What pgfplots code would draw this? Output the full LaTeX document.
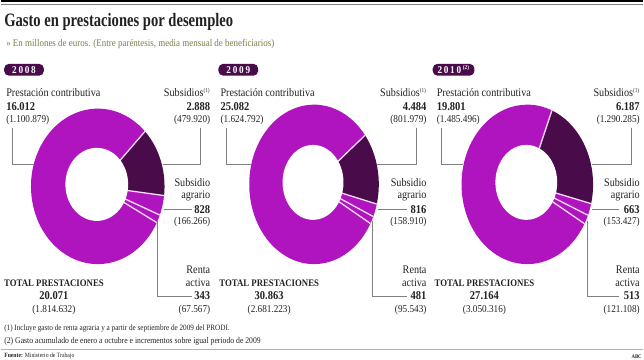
\documentclass[border=0pt]{standalone}
\usepackage{pgfplots}
\pgfplotsset{compat=1.18}
\usepackage{fontspec}
\setmainfont{Liberation Serif}[FakeStretch=0.88]
\newfontfamily\titlefont{Liberation Serif}[FakeStretch=0.77]
\definecolor{cMag}{HTML}{AF14BF}
\definecolor{cDark}{HTML}{4A0B4B}
\definecolor{cOlive}{HTML}{7D7A45}
\definecolor{cLine}{HTML}{808080}
\definecolor{cSep}{HTML}{F6DDF8}
\definecolor{cTxt}{HTML}{222222}

% #1 cx, #2 cy, #3 rx, #4 ry, #5 start angle, #6 subsidios, #7 agrario, #8 renta, #9 contributiva
\newcommand{\donut}[9]{%
  \edef\aA{\fpeval{#5}}%
  \edef\aB{\fpeval{#5-360*#6/(#6+#7+#8+#9)}}%
  \edef\aC{\fpeval{#5-360*(#6+#7)/(#6+#7+#8+#9)}}%
  \edef\aD{\fpeval{#5-360*(#6+#7+#8)/(#6+#7+#8+#9)}}%
  \edef\aE{\fpeval{#5-360}}%
  \edef\hx{\fpeval{0.47*#3}}%
  \edef\hy{\fpeval{0.47*#4}}%
  \fill[cDark] (axis cs:#1,#2) -- ++(\aA:#3pt and #4pt) arc[start angle=\aA,end angle=\aB,x radius=#3pt,y radius=#4pt] -- cycle;
  \fill[cMag] (axis cs:#1,#2) -- ++(\aB:#3pt and #4pt) arc[start angle=\aB,end angle=\aC,x radius=#3pt,y radius=#4pt] -- cycle;
  \fill[cMag] (axis cs:#1,#2) -- ++(\aC:#3pt and #4pt) arc[start angle=\aC,end angle=\aD,x radius=#3pt,y radius=#4pt] -- cycle;
  \fill[cMag] (axis cs:#1,#2) -- ++(\aD:#3pt and #4pt) arc[start angle=\aD,end angle=\aE,x radius=#3pt,y radius=#4pt] -- cycle;
  \foreach \a in {\aA,\aB,\aC,\aD} {\draw[cSep,line width=1.3pt] (axis cs:#1,#2) -- ++(\a:#3pt and #4pt);}
  \fill[white] (axis cs:#1,#2) ++(-1pt,2pt) ellipse[x radius=\hx pt,y radius=\hy pt];
}

\tikzset{
  lab/.style={inner sep=0pt,text=cTxt,font=\fontsize{11.6}{13}\selectfont},
  num/.style={inner sep=0pt,text=cTxt,font=\fontsize{12}{13}\selectfont\bfseries},
  par/.style={inner sep=0pt,text=cTxt,font=\fontsize{10.5}{12}\selectfont},
  tot/.style={inner sep=0pt,text=cTxt,font=\fontsize{10}{12}\selectfont\bfseries},
  yr/.style={fill=cDark,rounded corners=5pt,text=white,font=\fontsize{10.5}{11}\selectfont\bfseries,minimum height=12pt,inner sep=0pt},
  lead/.style={cLine,line width=0.8pt},
}
\newcommand{\supn}[1]{\textsuperscript{\fontsize{6}{6}\selectfont(#1)}}

\begin{document}
\begin{tikzpicture}
\begin{axis}[
  scale only axis, width=644pt, height=362pt,
  xmin=0, xmax=644, ymin=0, ymax=362, y dir=reverse,
  hide axis, clip=false]

% top rule and titles
\draw[black,line width=2.2pt] (axis cs:0,1.1) -- (axis cs:644,1.1);
\draw[gray,line width=0.4pt] (axis cs:0,3.8) -- (axis cs:644,3.8);
\node[anchor=base west,inner sep=0pt,text=cTxt,font=\titlefont\fontsize{19}{20}\selectfont\bfseries] at (axis cs:3,27) {Gasto en prestaciones por desempleo};
\node[anchor=west,inner sep=0pt,text=cOlive,font=\fontsize{10.2}{11}\selectfont] at (axis cs:5,44) {» En millones de euros. (Entre paréntesis, media mensual de beneficiarios)};

% donuts: subsidios, agrario, renta activa, contributiva
\pgfplotsextra{\donut{97}{187}{67}{78}{45}{2888}{828}{343}{16012}}
\pgfplotsextra{\donut{314}{185}{65}{80}{38}{4484}{816}{481}{25082}}
\pgfplotsextra{\donut{528}{185}{66}{80}{68}{6187}{663}{513}{19801}}

% ---- 2008
\node[yr,minimum width=40pt] at (axis cs:23,70) {2\,0\,0\,8};
\node[lab,anchor=west] at (axis cs:5,93) {Prestación contributiva};
\node[num,anchor=west] at (axis cs:5,107) {16.012};
\node[par,anchor=west] at (axis cs:5,120) {(1.100.879)};
\draw[lead] (axis cs:11,128) -- (axis cs:11,165) -- (axis cs:33,165);
\node[lab,anchor=east] at (axis cs:210,93) {Subsidios\supn{1}};
\node[num,anchor=east] at (axis cs:210,107) {2.888};
\node[par,anchor=east] at (axis cs:210,120) {(479.920)};
\draw[lead] (axis cs:200,128) -- (axis cs:200,165) -- (axis cs:162,165);
\node[lab,anchor=east] at (axis cs:210,183) {Subsidio};
\node[lab,anchor=east] at (axis cs:210,197) {agrario};
\node[num,anchor=east] at (axis cs:210,210) {828};
\node[par,anchor=east] at (axis cs:210,223) {(166.266)};
\draw[lead] (axis cs:163,210) -- (axis cs:192,210);
\node[lab,anchor=east] at (axis cs:210,271) {Renta};
\node[lab,anchor=east] at (axis cs:210,284) {activa};
\node[num,anchor=east] at (axis cs:210,297) {343};
\node[par,anchor=east] at (axis cs:210,311) {(67.567)};
\draw[lead] (axis cs:157,221) -- (axis cs:157,297) -- (axis cs:192,297);
\node[tot] at (axis cs:53,284) {TOTAL PRESTACIONES};
\node[num] at (axis cs:53,297) {20.071};
\node[par] at (axis cs:53,311) {(1.814.632)};

% ---- 2009
\node[yr,minimum width=40pt] at (axis cs:238,70) {2\,0\,0\,9};
\node[lab,anchor=west] at (axis cs:220,93) {Prestación contributiva};
\node[num,anchor=west] at (axis cs:220,107) {25.082};
\node[par,anchor=west] at (axis cs:220,120) {(1.624.792)};
\draw[lead] (axis cs:226,128) -- (axis cs:226,165) -- (axis cs:251,165);
\node[lab,anchor=east] at (axis cs:427,93) {Subsidios\supn{1}};
\node[num,anchor=east] at (axis cs:427,107) {4.484};
\node[par,anchor=east] at (axis cs:427,120) {(801.979)};
\draw[lead] (axis cs:417,128) -- (axis cs:417,165) -- (axis cs:377,165);
\node[lab,anchor=east] at (axis cs:427,183) {Subsidio};
\node[lab,anchor=east] at (axis cs:427,197) {agrario};
\node[num,anchor=east] at (axis cs:427,210) {816};
\node[par,anchor=east] at (axis cs:427,223) {(158.910)};
\draw[lead] (axis cs:378,210) -- (axis cs:407,210);
\node[lab,anchor=east] at (axis cs:427,271) {Renta};
\node[lab,anchor=east] at (axis cs:427,284) {activa};
\node[num,anchor=east] at (axis cs:427,297) {481};
\node[par,anchor=east] at (axis cs:427,311) {(95.543)};
\draw[lead] (axis cs:373,222) -- (axis cs:373,297) -- (axis cs:407,297);
\node[tot] at (axis cs:269,284) {TOTAL PRESTACIONES};
\node[num] at (axis cs:269,297) {30.863};
\node[par] at (axis cs:269,311) {(2.681.223)};

% ---- 2010
\node[yr,minimum width=42pt] at (axis cs:454,70) {2\,0\,1\,0\,\supn{2}};
\node[lab,anchor=west] at (axis cs:437,93) {Prestación contributiva};
\node[num,anchor=west] at (axis cs:437,107) {19.801};
\node[par,anchor=west] at (axis cs:437,120) {(1.485.496)};
\draw[lead] (axis cs:442,128) -- (axis cs:442,165) -- (axis cs:463,165);
\node[lab,anchor=east] at (axis cs:641,93) {Subsidios\supn{1}};
\node[num,anchor=east] at (axis cs:641,107) {6.187};
\node[par,anchor=east] at (axis cs:641,120) {(1.290.285)};
\draw[lead] (axis cs:632,128) -- (axis cs:632,165) -- (axis cs:593,165);
\node[lab,anchor=east] at (axis cs:641,183) {Subsidio};
\node[lab,anchor=east] at (axis cs:641,197) {agrario};
\node[num,anchor=east] at (axis cs:641,210) {663};
\node[par,anchor=east] at (axis cs:641,223) {(153.427)};
\draw[lead] (axis cs:593,210) -- (axis cs:620,210);
\node[lab,anchor=east] at (axis cs:641,271) {Renta};
\node[lab,anchor=east] at (axis cs:641,284) {activa};
\node[num,anchor=east] at (axis cs:641,297) {513};
\node[par,anchor=east] at (axis cs:641,311) {(121.108)};
\draw[lead] (axis cs:588,222) -- (axis cs:588,297) -- (axis cs:620,297);
\node[tot] at (axis cs:485,284) {TOTAL PRESTACIONES};
\node[num] at (axis cs:485,297) {27.164};
\node[par] at (axis cs:485,311) {(3.050.316)};

% footnotes
\node[anchor=west,inner sep=0pt,text=cTxt,font=\fontsize{8.2}{9}\selectfont] at (axis cs:3,330) {(1) Incluye gasto de renta agraria y a partir de septiembre de 2009 del PRODI.};
\node[anchor=west,inner sep=0pt,text=cTxt,font=\fontsize{8.8}{9}\selectfont] at (axis cs:3,343) {(2) Gasto acumulado de enero a octubre e incrementos sobre igual periodo de 2009};
\draw[gray!60,line width=0.8pt] (axis cs:0,350.5) -- (axis cs:644,350.5);
\node[anchor=west,inner sep=0pt,text=cTxt,font=\fontsize{6.5}{7}\selectfont] at (axis cs:3,357.5) {\textbf{Fuente:} Ministerio de Trabajo};
\node[anchor=east,inner sep=0pt,text=cTxt,font=\fontsize{5.5}{6}\selectfont\bfseries] at (axis cs:643,357.5) {ABC};
\end{axis}
\end{tikzpicture}
\end{document}
